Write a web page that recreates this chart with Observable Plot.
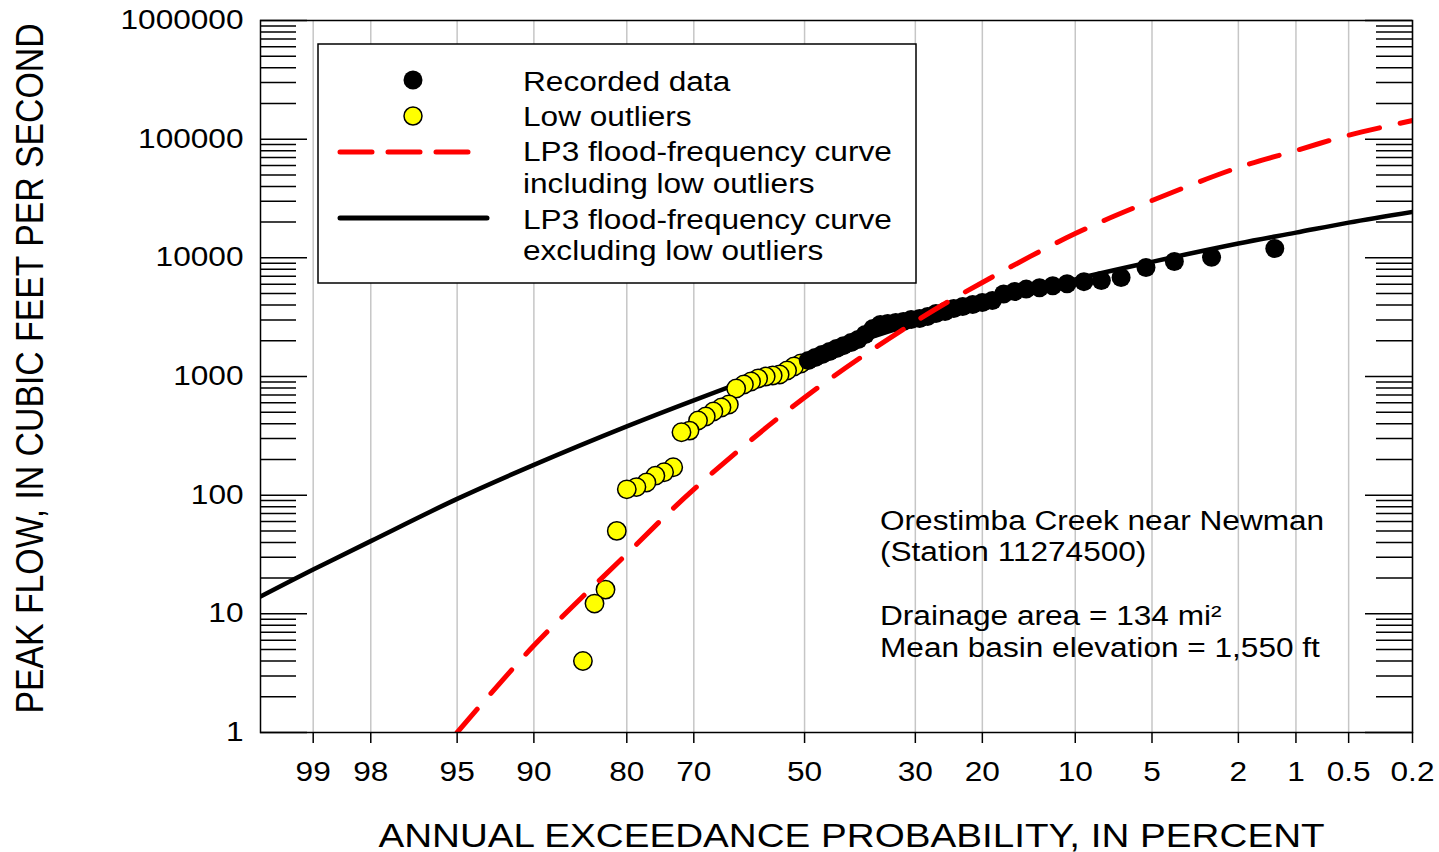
<!DOCTYPE html>
<html>
<head>
<meta charset="utf-8">
<script src="https://cdn.jsdelivr.net/npm/d3@7"></script>
<script src="https://cdn.jsdelivr.net/npm/@observablehq/plot@0.6"></script>
<style>
  html, body { margin: 0; padding: 0; background: white; }
</style>
</head>
<body>
<script>
// ---------- data ----------
const tickPct    = [99, 98, 95, 90, 80, 70, 50, 30, 20, 10, 5, 2, 1, 0.5, 0.2];
const tickLabels = ["99", "98", "95", "90", "80", "70", "50", "30", "20", "10", "5", "2", "1", "0.5", "0.2"];
const yTicks     = [1, 10, 100, 1000, 10000, 100000, 1000000];

// Recorded data (black dots): annual exceedance probability (%) and peak flow (ft3/s)
const recordedPct  = [1.3, 2.7, 4.0, 5.3, 6.7, 8.0, 9.3, 10.7, 12.0, 13.3, 14.7, 16.0, 17.3, 18.7, 20.0, 21.3, 22.7, 24.0, 25.3, 26.7, 28.0, 29.3, 30.7, 32.0, 33.3, 34.7, 36.0, 37.3, 38.7, 40.0, 41.3, 42.7, 44.0, 45.3, 46.7, 48.0, 49.3];
const recordedFlow = [12000, 10100, 9300, 8300, 6830, 6440, 6300, 6050, 5820, 5600, 5450, 5200, 4960, 4370, 4200, 4040, 3890, 3740, 3530, 3400, 3210, 3080, 3020, 2905, 2850, 2800, 2745, 2540, 2260, 2050, 1930, 1820, 1720, 1625, 1530, 1445, 1365];

// Low outliers (yellow dots)
const outlierPct  = [50.7, 52.0, 53.3, 54.7, 56.0, 57.3, 58.7, 60.0, 61.3, 62.7, 64.0, 65.3, 66.7, 68.0, 69.3, 70.7, 72.0, 73.3, 74.7, 76.0, 77.3, 78.7, 80.0, 81.3, 82.7, 84.0, 85.3];
const outlierFlow = [1288, 1213, 1123, 1040, 1019, 1000, 962, 907, 856, 792, 580, 548, 507, 460, 426, 350, 339, 172, 156, 146, 128, 117, 112, 50, 16, 12.2, 4.0];

// LP3 curve excluding low outliers (black solid)
const excludingPct  = [99.5, 99, 98, 95, 90, 80, 70, 50, 30, 20, 10, 5, 2, 1, 0.5, 0.2];
const excludingFlow = [14, 23.6, 41, 93, 180, 380, 630, 1390, 2820, 4100, 6590, 9250, 13200, 16300, 19800, 24400];

// LP3 curve including low outliers (red dashed)
const includingPct  = [95, 90, 80, 70, 50, 30, 20, 10, 5, 2, 1, 0.5, 0.2];
const includingFlow = [1, 5.4, 32, 112, 665, 2900, 6200, 16000, 30400, 57700, 80200, 108000, 143600];

// ---------- probability-scale helper (inverse normal CDF, Acklam) ----------
function probit(p) {
  const a = [-3.969683028665376e+01, 2.209460984245205e+02, -2.759285104469687e+02, 1.383577518672690e+02, -3.066479806614716e+01, 2.506628277459239e+00];
  const b = [-5.447609879822406e+01, 1.615858368580409e+02, -1.556989798598866e+02, 6.680131188771972e+01, -1.328068155288572e+01];
  const c = [-7.784894002430293e-03, -3.223964580411365e-01, -2.400758277161838e+00, -2.549732539343734e+00, 4.374664141464968e+00, 2.938163982698783e+00];
  const d = [7.784695709041462e-03, 3.224671290700398e-01, 2.445134137142996e+00, 3.754408661907416e+00];
  const plow = 0.02425, phigh = 1 - plow;
  let q, r;
  if (p < plow) {
    q = Math.sqrt(-2 * Math.log(p));
    return (((((c[0]*q+c[1])*q+c[2])*q+c[3])*q+c[4])*q+c[5]) / ((((d[0]*q+d[1])*q+d[2])*q+d[3])*q+1);
  }
  if (p <= phigh) {
    q = p - 0.5; r = q * q;
    return (((((a[0]*r+a[1])*r+a[2])*r+a[3])*r+a[4])*r+a[5])*q / (((((b[0]*r+b[1])*r+b[2])*r+b[3])*r+b[4])*r+1);
  }
  q = Math.sqrt(-2 * Math.log(1 - p));
  return -(((((c[0]*q+c[1])*q+c[2])*q+c[3])*q+c[4])*q+c[5]) / ((((d[0]*q+d[1])*q+d[2])*q+d[3])*q+1);
}
const toZ = pct => probit(1 - pct / 100);

// ---------- tables built from the arrays ----------
const recorded  = recordedPct.map((p, i) => ({p, q: recordedFlow[i]}));
const outliers  = outlierPct.map((p, i) => ({p, q: outlierFlow[i]}));
const excluding = excludingPct.map((p, i) => ({p, q: excludingFlow[i]}));
const including = includingPct.map((p, i) => ({p, q: includingFlow[i]}));
const zTicks = tickPct.map(toZ);
const zLabel = new Map(zTicks.map((z, i) => [z, tickLabels[i]]));
const minorTicks = yTicks.slice(0, -1).flatMap(d => [2, 3, 4, 5, 6, 7, 8, 9].map(k => k * d));

const FONT = "'Liberation Sans', Arial, Helvetica, sans-serif";
const frameW = 1439 - 260 - 27;

const svg = Plot.plot({
  width: 1439,
  height: 852,
  marginLeft: 260,
  marginRight: 27,
  marginTop: 20,
  marginBottom: 120,
  style: {fontFamily: FONT, fontSize: "27px", background: "white", color: "black", overflow: "visible"},
  x: {domain: [toZ(99.5), toZ(0.2)]},
  y: {type: "log", domain: [1, 1000000]},
  marks: [
    Plot.gridX(zTicks, {stroke: "#c6c6c6", strokeOpacity: 1, strokeWidth: 1.5}),
    Plot.line(excluding, {x: d => toZ(d.p), y: "q", stroke: "black", strokeWidth: 4.5, curve: "catmull-rom", clip: true}),
    Plot.dot(outliers, {x: d => toZ(d.p), y: "q", r: 9.2, fill: "#ffff00", stroke: "black", strokeWidth: 1.5, clip: true}),
    Plot.dot(recorded, {x: d => toZ(d.p), y: "q", r: 9.5, fill: "black", clip: true}),
    Plot.line(including, {x: d => toZ(d.p), y: "q", stroke: "#ff0000", strokeWidth: 5, strokeDasharray: "31,21", strokeLinecap: "round", curve: "catmull-rom", clip: true}),
    // inward log ticks on both sides
    Plot.tickY(yTicks, {y: d => d, insetRight: frameW - 47, stroke: "black", strokeWidth: 1.5}),
    Plot.tickY(minorTicks, {y: d => d, insetRight: frameW - 36, stroke: "black", strokeWidth: 1.5}),
    Plot.tickY(yTicks, {y: d => d, insetLeft: frameW - 47, stroke: "black", strokeWidth: 1.5}),
    Plot.tickY(minorTicks, {y: d => d, insetLeft: frameW - 36, stroke: "black", strokeWidth: 1.5}),
    Plot.axisY(yTicks, {anchor: "left", tickSize: 0, tickPadding: 17, tickFormat: d => String(d), label: null}),
    Plot.axisX(zTicks, {anchor: "bottom", tickSize: 11, tickPadding: 18, strokeWidth: 1.5, tickFormat: z => zLabel.get(z), label: null}),
    Plot.frame({stroke: "black", strokeWidth: 1.5}),
    Plot.text(["ANNUAL EXCEEDANCE PROBABILITY, IN PERCENT"], {text: d => d, frameAnchor: "bottom", textAnchor: "middle", lineAnchor: "middle", dx: 15, dy: 104, fontSize: 33}),
    Plot.text(["PEAK FLOW, IN CUBIC FEET PER SECOND"], {text: d => d, frameAnchor: "left", textAnchor: "middle", lineAnchor: "middle", dx: -230, dy: -8, rotate: -90, fontSize: 33.8})
  ]
});
document.body.appendChild(svg);

// ---------- legend and annotation (inside the frame) ----------
const root = d3.select(svg);
const lg = root.append("g").attr("font-family", FONT).attr("font-size", 27).attr("fill", "black").attr("text-anchor", "start");
lg.append("rect").attr("x", 318).attr("y", 44).attr("width", 598).attr("height", 239)
  .attr("fill", "white").attr("stroke", "black").attr("stroke-width", 1.5);
lg.append("circle").attr("cx", 413).attr("cy", 80).attr("r", 9.5).attr("fill", "black");
lg.append("circle").attr("cx", 413).attr("cy", 116).attr("r", 9).attr("fill", "#ffff00").attr("stroke", "black").attr("stroke-width", 1.5);
lg.append("line").attr("x1", 340).attr("x2", 470).attr("y1", 152).attr("y2", 152)
  .attr("stroke", "#ff0000").attr("stroke-width", 5).attr("stroke-dasharray", "32,16").attr("stroke-linecap", "round");
lg.append("line").attr("x1", 340).attr("x2", 487).attr("y1", 218).attr("y2", 218)
  .attr("stroke", "black").attr("stroke-width", 5).attr("stroke-linecap", "round");
const legendLines = [
  ["Recorded data", 81],
  ["Low outliers", 116],
  ["LP3 flood-frequency curve", 151],
  ["including low outliers", 183],
  ["LP3 flood-frequency curve", 219],
  ["excluding low outliers", 250]
];
legendLines.forEach(([t, cy]) => lg.append("text").attr("x", 523).attr("y", cy + 9.7).attr("text-anchor", "start").text(t));

const notes = [
  ["Orestimba Creek near Newman", 520],
  ["(Station 11274500)", 551],
  ["Drainage area = 134 mi\u00B2", 615],
  ["Mean basin elevation = 1,550 ft", 647]
];
const ng = root.append("g").attr("font-family", FONT).attr("font-size", 27).attr("fill", "black").attr("text-anchor", "start");
notes.forEach(([t, cy]) => ng.append("text").attr("x", 880).attr("y", cy + 9.7).attr("text-anchor", "start").text(t));

// ---------- widen glyphs horizontally to match the reference lettering ----------
const STRETCH = 1.17;
svg.querySelectorAll("text").forEach(t => {
  const tr = t.getAttribute("transform") || "";
  if (tr.includes("rotate")) {
    t.setAttribute("transform", tr + ` scale(1,${STRETCH})`);
    return;
  }
  const L = t.getComputedTextLength();
  if (L > 0) {
    t.setAttribute("textLength", (L * STRETCH).toFixed(1));
    t.setAttribute("lengthAdjust", "spacingAndGlyphs");
  }
});
</script>
</body>
</html>
